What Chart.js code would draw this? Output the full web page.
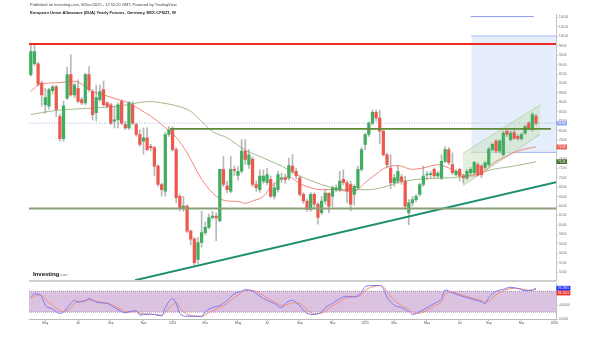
<!DOCTYPE html>
<html>
<head>
<meta charset="utf-8">
<script src="https://cdn.jsdelivr.net/npm/chart.js@4.4.1/dist/chart.umd.min.js"></script>
<style>
  html, body { margin: 0; padding: 0; background: #fff; }
  #wrap { position: relative; width: 600px; height: 343px; overflow: hidden; font-family: Arial, "Liberation Sans", sans-serif; }
  #priceChart { position: absolute; left: 0; top: 0; }
  #oscChart { position: absolute; left: 0; top: 281px; }
  .pub { position: absolute; left: 30px; top: 2.5px; font-size: 4px; line-height: 4px; color: #444; white-space: nowrap; }
  .ttl { position: absolute; left: 30px; top: 10.5px; font-size: 4.1px; line-height: 4px; font-weight: bold; color: #222; white-space: nowrap; }
  .logo { position: absolute; left: 33px; top: 270px; font-size: 6.2px; line-height: 7px; font-weight: bold; color: #111; white-space: nowrap; letter-spacing: -0.1px; }
  .logo span { font-size: 4px; font-weight: normal; color: #777; }
  .sep { position: absolute; left: 29px; top: 280px; width: 527px; height: 2px; background: #cfcfcf; }
</style>
</head>
<body>
<div id="wrap">
  <canvas id="priceChart" width="600" height="283"></canvas>
  <div class="sep"></div>
  <canvas id="oscChart" width="600" height="62"></canvas>
  <div class="pub">Published on Investing.com, 8/Dec/2025 - 12:55:20 GMT, Powered by TradingView</div>
  <div class="ttl">European Union Allowance (EUA) Yearly Futures, Germany, EEX:CFI2Z1, W</div>
  <div class="logo">Investing<span>.com</span></div>
</div>
<script>
// weekly bars, week 0 = 2023-04-03
const tickWeeks  = [4, 13, 22, 31, 39, 48, 57, 65, 74, 83, 92, 100, 109, 118, 126, 135, 144];
const tickLabels = ['May', 'Jul', 'Sep', 'Nov', '2024', 'Mar', 'May', 'Jul', 'Sep', 'Nov', '2025', 'Mar', 'May', 'Jul', 'Sep', 'Nov', '2026'];

const open = [
  91.9, 94.2, 94.2, 90.1, 85.5, 85.2, 88.5, 89.3, 83.0, 78.3,
  86.9, 91.9, 87.6, 89.0, 86.6, 85.9, 91.9, 88.3, 83.8, 86.6,
  88.7, 85.9, 85.5, 82.0, 82.3, 86.2, 81.3, 80.6, 85.5, 81.3,
  79.2, 77.8, 78.5, 76.7, 76.4, 72.5, 68.6, 67.2, 79.2, 80.2,
  76.0, 66.1, 63.7, 64.0, 58.7, 57.0, 52.7, 56.3, 58.4, 59.5,
  61.6, 61.9, 60.9, 71.8, 68.3, 67.2, 71.8, 70.5, 71.4, 75.7,
  72.8, 74.0, 68.6, 67.5, 69.3, 69.0, 69.7, 66.1, 67.5, 69.8,
  70.0, 70.0, 72.5, 71.4, 70.0, 66.5, 65.1, 63.3, 66.5, 64.4,
  62.6, 65.1, 66.8, 66.1, 67.5, 67.5, 69.7, 69.0, 68.6, 66.5,
  67.9, 71.8, 77.1, 79.2, 81.6, 83.9, 82.7, 79.9, 74.9, 72.1,
  69.0, 69.3, 70.2, 69.3, 62.6, 64.7, 65.4, 66.5, 68.6, 70.6,
  70.7, 71.8, 70.4, 70.0, 73.5, 76.0, 72.8, 70.7, 71.8, 70.4,
  70.0, 71.1, 71.1, 72.8, 72.5, 72.2, 72.8, 76.0, 77.8, 75.7,
  74.9, 79.9, 78.1, 79.6, 78.8, 78.3, 79.5, 81.6, 80.2, 83.1
];
const high = [
  98.2, 98.4, 94.5, 90.5, 89.0, 89.0, 89.6, 89.6, 83.5, 86.3,
  93.5, 96.1, 90.1, 90.8, 87.0, 92.2, 93.6, 88.7, 89.7, 89.7,
  90.5, 86.2, 85.9, 85.2, 85.9, 86.6, 82.0, 86.2, 86.2, 81.6,
  80.2, 80.6, 80.6, 77.1, 76.7, 72.8, 68.9, 79.6, 80.9, 80.9,
  76.4, 66.5, 66.1, 64.3, 59.0, 57.4, 57.4, 62.9, 60.6, 62.3,
  62.9, 62.6, 71.8, 74.6, 69.3, 74.6, 72.5, 72.4, 78.1, 78.1,
  76.0, 74.4, 69.3, 71.7, 71.7, 72.0, 70.4, 68.9, 71.4, 71.0,
  70.8, 74.2, 75.0, 72.1, 70.4, 66.9, 65.5, 66.9, 66.9, 64.8,
  66.1, 67.5, 66.8, 68.3, 68.5, 71.4, 71.7, 69.5, 69.3, 68.6,
  72.5, 76.4, 79.5, 81.9, 84.4, 84.4, 84.4, 80.2, 75.3, 74.9,
  70.7, 72.5, 70.7, 70.4, 65.4, 66.1, 66.5, 68.9, 72.5, 71.4,
  71.4, 72.1, 71.4, 74.9, 76.7, 76.4, 75.3, 71.8, 72.1, 70.7,
  71.8, 72.2, 73.5, 73.2, 72.8, 73.5, 76.4, 77.4, 78.1, 78.1,
  79.9, 80.2, 79.9, 80.2, 79.2, 79.5, 81.2, 81.9, 83.8, 83.4
];
const low = [
  91.5, 93.8, 89.5, 85.2, 83.7, 84.5, 87.8, 83.0, 77.8, 77.8,
  86.6, 87.3, 87.0, 85.9, 85.5, 85.5, 88.3, 82.3, 82.0, 86.2,
  85.2, 84.8, 81.3, 80.6, 80.6, 81.3, 80.2, 80.2, 81.3, 78.8,
  76.7, 75.0, 75.7, 75.7, 70.4, 68.2, 66.1, 66.1, 78.8, 75.7,
  64.7, 63.0, 62.9, 58.3, 55.8, 51.5, 51.8, 55.3, 57.9, 59.2,
  61.2, 56.7, 60.6, 68.2, 66.8, 66.8, 70.5, 69.5, 71.0, 72.8,
  72.0, 68.2, 67.2, 66.9, 68.8, 68.5, 65.8, 65.5, 67.0, 69.0,
  68.8, 69.5, 70.9, 69.8, 66.1, 64.6, 62.9, 62.9, 63.5, 60.2,
  62.2, 64.5, 62.6, 63.9, 67.0, 67.0, 68.5, 64.7, 63.0, 64.2,
  67.5, 71.4, 76.0, 78.8, 81.2, 82.0, 77.2, 74.6, 72.1, 67.7,
  68.2, 68.9, 68.6, 63.3, 60.1, 64.0, 64.9, 66.1, 68.2, 69.6,
  69.9, 70.0, 70.0, 69.6, 73.2, 72.8, 70.7, 70.4, 69.3, 68.9,
  69.6, 70.7, 70.7, 70.4, 70.0, 71.8, 72.5, 75.7, 75.3, 75.3,
  74.6, 78.8, 77.8, 78.1, 78.0, 78.0, 79.2, 80.2, 79.9, 81.3
];
const close = [
  96.8, 96.8, 89.9, 87.6, 87.0, 88.7, 89.3, 84.5, 78.3, 85.3,
  91.9, 87.6, 89.7, 86.2, 85.9, 91.9, 88.7, 83.4, 87.0, 88.3,
  85.5, 85.2, 81.6, 82.3, 85.5, 81.6, 80.6, 85.9, 81.6, 79.2,
  77.1, 78.5, 76.0, 76.4, 72.5, 68.6, 67.5, 79.2, 80.2, 76.0,
  65.8, 63.7, 64.0, 58.7, 57.0, 52.0, 56.3, 58.4, 59.5, 61.6,
  61.9, 61.5, 71.8, 68.6, 67.5, 71.8, 71.6, 71.4, 75.7, 73.9,
  74.9, 68.6, 67.9, 70.4, 70.4, 70.7, 66.1, 67.9, 70.7, 70.0,
  69.6, 72.6, 71.4, 70.4, 66.5, 65.1, 63.3, 66.5, 64.4, 61.6,
  65.1, 66.8, 64.0, 67.9, 67.9, 69.3, 69.0, 67.2, 64.4, 68.2,
  71.8, 76.0, 79.2, 81.6, 83.9, 82.7, 79.9, 74.9, 72.8, 69.0,
  70.0, 71.4, 69.3, 64.0, 64.7, 65.4, 66.1, 68.6, 70.4, 70.8,
  70.9, 70.4, 71.0, 73.5, 76.0, 73.2, 71.1, 71.4, 70.4, 70.0,
  71.4, 71.8, 73.3, 70.7, 70.7, 73.2, 76.1, 77.1, 75.7, 77.8,
  79.5, 79.2, 79.5, 78.4, 78.3, 79.2, 80.9, 80.6, 83.4, 81.6
];

// moving averages: [week, value]
const maFast = [
  [0, 88.3], [2, 89.7], [5, 90.1], [8, 90.2], [12, 90.5], [15, 89.4], [17, 88.3], [20, 87.6],
  [24, 86.6], [27, 85.9], [30, 84.5], [33, 83.1], [36, 81.3], [38, 80.0], [40, 78.6], [43, 75.3],
  [47, 69.7], [51, 66.1], [54, 65.1], [57, 65.0], [59, 64.6], [61, 65.1], [64, 66.1], [66, 68.0],
  [69, 69.8], [71, 70.2], [74, 68.8], [77, 67.9], [80, 67.5], [83, 67.5], [87, 67.2], [89, 67.2],
  [92, 69.0], [96, 71.4], [98, 72.3], [101, 72.6], [105, 71.8], [108, 72.1], [112, 72.8], [115, 72.1],
  [119, 70.6], [122, 70.4], [125, 71.4], [127, 73.0], [131, 74.6], [134, 75.7], [139, 76.58]
];
const maSlow = [
  [0, 83.4], [5, 84.1], [10, 84.5], [17, 84.8], [25, 85.3], [30, 86.0], [33, 86.2], [36, 85.9],
  [40, 85.3], [44, 84.1], [47, 82.0], [50, 79.8], [54, 78.5], [59, 75.9], [64, 74.2], [69, 72.5],
  [74, 70.4], [80, 68.6], [85, 67.6], [89, 67.5], [93, 67.5], [97, 68.0], [101, 69.0], [108, 69.8],
  [115, 70.0], [122, 70.7], [127, 71.8], [133, 72.5], [139, 73.43]
];

// oscillator lines: [week, value]
const oscK = [
  [0, 64], [1, 73], [2, 72], [3, 64], [4, 40], [6, 29], [8, 16], [9, 21], [11, 45], [12, 54],
  [13, 49], [15, 54], [16, 59], [18, 49], [19, 47], [21, 45], [23, 33], [25, 21], [26, 18], [27, 21],
  [29, 24], [30, 11], [32, 14], [34, 13], [36, 9], [37, 33], [39, 59], [40, 45], [41, 16], [43, 8],
  [45, 8], [47, 7], [48, 21], [50, 33], [52, 39], [54, 54], [56, 73], [58, 81], [59, 85], [61, 81],
  [63, 66], [65, 54], [67, 45], [69, 33], [70, 45], [72, 54], [74, 38], [76, 16], [78, 13], [80, 21],
  [81, 33], [83, 45], [85, 59], [87, 66], [89, 64], [91, 77], [92, 94], [94, 97], [96, 97], [97, 88],
  [98, 64], [100, 40], [102, 33], [104, 21], [105, 13], [107, 21], [109, 33], [111, 45], [113, 59], [114, 84],
  [116, 76], [118, 68], [120, 62], [122, 56], [124, 50], [125, 45], [126, 62], [128, 80], [130, 86], [132, 92],
  [134, 88], [136, 82], [138, 84], [139, 89.19]
];
const oscD = [
  [0, 60], [1, 66], [2, 70], [3, 69], [4, 58], [6, 40], [8, 24], [9, 20], [11, 33], [12, 45],
  [13, 50], [15, 52], [16, 55], [18, 52], [19, 49], [21, 46], [23, 38], [25, 27], [26, 21], [27, 20],
  [29, 22], [30, 17], [32, 14], [34, 13], [36, 11], [37, 20], [39, 42], [40, 48], [41, 33], [43, 14],
  [45, 9], [47, 8], [48, 12], [50, 24], [52, 34], [54, 45], [56, 62], [58, 76], [59, 82], [61, 83],
  [63, 74], [65, 61], [67, 50], [69, 40], [70, 40], [72, 47], [74, 45], [75, 38], [76, 26], [78, 15],
  [80, 17], [81, 24], [83, 38], [85, 50], [87, 62], [89, 64], [91, 70], [92, 83], [94, 93], [96, 97],
  [97, 93], [98, 80], [100, 54], [102, 39], [104, 28], [105, 18], [107, 17], [109, 26], [111, 38], [113, 51],
  [114, 72], [116, 78], [118, 72], [120, 65], [122, 59], [124, 53], [125, 48], [126, 52], [128, 70], [130, 82],
  [132, 88], [134, 89], [136, 85], [138, 83], [139, 86.15]
];

// drawn levels and tools (price / week units)
const resistance = 98.4;
const midSupport = 80.4;
const lowSupport = 63.5;
const lastPrice = 81.6;
const trendLine = [[28.7, 48.3], [144.5, 69.1]];
const channelTop = [[118.9, 75.2], [140.2, 85.5]];
const channelBottom = [[118.9, 68.4], [140.1, 79.2]];
const rangeBox = { from: 121.2, to: 144.5, top: 100.1, bottom: 75.4 };
const rangeBar = { from: 121, to: 138.4, value: 104.2 };

const priceTags = [81.60, 76.58, 73.43];
const priceTagText = ['81.60', '76.58', '73.43'];
const oscTags = [89.1865, 86.1503];
const oscTagText = ['89.1865', '86.1503'];
const oscTicks = [0, 40, 80];

const UP = '#41ad60';
const DOWN = '#ec5a4f';

function pts(pairs) { return pairs.map(p => ({ x: p[0], y: p[1] })); }
function hline(x0, x1, v) { return [{ x: x0, y: v }, { x: x1, y: v }]; }

const bodies = open.map((o, i) => ({ x: i, y: [o, close[i]] }));
const wicks = open.map((o, i) => ({ x: i, y: [low[i], high[i]] }));
const bodyColors = open.map((o, i) => close[i] >= o ? UP : DOWN);

function drawTags(chart, values, texts, colors, fontSize, boxH) {
    const ctx = chart.ctx;
    const yScale = chart.scales.y;
    const left = chart.chartArea.right + 0.5;
    ctx.save();
    ctx.font = fontSize + 'px Arial';
    ctx.textBaseline = 'middle';
    let lastBottom = -Infinity;
    values.forEach((v, i) => {
        let y = yScale.getPixelForValue(v);
        if (y - boxH / 2 < lastBottom) y = lastBottom + boxH / 2;
        const w = ctx.measureText(texts[i]).width + 3;
        ctx.fillStyle = colors[i].bg;
        ctx.fillRect(left, y - boxH / 2, w, boxH);
        ctx.fillStyle = colors[i].fg;
        ctx.fillText(texts[i], left + 1.5, y + 0.2);
        lastBottom = y + boxH / 2;
    });
    ctx.restore();
}

const priceTagPlugin = {
    id: 'priceTags',
    afterDraw(chart) {
        drawTags(chart, priceTags, priceTagText, [
            { bg: '#8ea4ee', fg: '#ffffff' },
            { bg: '#ef5b52', fg: '#ffffff' },
            { bg: '#3f6a25', fg: '#ffffff' }
        ], 3, 4.6);
    }
};

const oscTagPlugin = {
    id: 'oscTags',
    afterDraw(chart) {
        drawTags(chart, oscTags, oscTagText, [
            { bg: '#1f2bff', fg: '#ffffff' },
            { bg: '#f0322e', fg: '#ffffff' }
        ], 3, 4.8);
    }
};

const lineBase = { type: 'line', pointRadius: 0, fill: false, borderWidth: 1 };

new Chart(document.getElementById('priceChart'), {
    type: 'bar',
    data: {
        datasets: [
            Object.assign({}, lineBase, {
                data: hline(rangeBox.from, rangeBox.to, rangeBox.top),
                fill: { value: rangeBox.bottom },
                backgroundColor: 'rgba(196,212,246,0.42)',
                borderColor: '#a7b6f2',
                order: 20
            }),
            Object.assign({}, lineBase, {
                data: hline(rangeBox.from, rangeBox.to, rangeBox.bottom),
                borderColor: '#a7b6f2',
                order: 19
            }),
            Object.assign({}, lineBase, {
                data: pts(channelTop),
                borderColor: '#b7cfae',
                order: 18
            }),
            Object.assign({}, lineBase, {
                data: pts(channelBottom),
                borderColor: '#b7cfae',
                fill: '-1',
                backgroundColor: 'rgba(206,230,198,0.6)',
                order: 17
            }),
            Object.assign({}, lineBase, {
                data: pts(maSlow),
                borderColor: '#a3bb8a',
                cubicInterpolationMode: 'monotone',
                order: 12
            }),
            Object.assign({}, lineBase, {
                data: pts(maFast),
                borderColor: '#f3857d',
                cubicInterpolationMode: 'monotone',
                order: 11
            }),
            Object.assign({}, lineBase, {
                data: hline(-0.5, 144.5, lastPrice),
                borderColor: '#a9b8e6',
                borderDash: [1, 1.5],
                order: 10
            }),
            {
                data: wicks,
                backgroundColor: 'rgba(120,128,124,0.55)',
                barThickness: 1,
                grouped: false,
                order: 3
            },
            {
                data: bodies,
                backgroundColor: bodyColors,
                barThickness: 2.6,
                minBarLength: 1,
                grouped: false,
                order: 2
            },
            Object.assign({}, lineBase, {
                data: hline(-0.5, 144.5, resistance),
                borderColor: '#ee2a24',
                borderWidth: 2,
                order: 1
            }),
            Object.assign({}, lineBase, {
                data: hline(38.3, 143.1, midSupport),
                borderColor: '#5f8a36',
                borderWidth: 1.6,
                order: 1
            }),
            Object.assign({}, lineBase, {
                data: hline(-0.5, 144.5, lowSupport),
                borderColor: '#8c9f77',
                borderWidth: 2,
                order: 1
            }),
            Object.assign({}, lineBase, {
                data: pts(trendLine),
                borderColor: '#1f8f72',
                borderWidth: 2,
                order: 1
            }),
            Object.assign({}, lineBase, {
                data: hline(rangeBar.from, rangeBar.to, rangeBar.value),
                borderColor: '#8c9cf0',
                order: 1
            })
        ]
    },
    options: {
        responsive: false,
        animation: false,
        events: [],
        layout: { padding: { left: 29, right: 0, top: 14, bottom: 2 } },
        plugins: { legend: { display: false }, tooltip: { enabled: false } },
        scales: {
            x: { type: 'linear', min: -0.5, max: 144.5, offset: false, display: false },
            y: {
                position: 'right',
                min: 48.3,
                max: 104.75,
                afterFit: s => { s.width = 44; },
                afterBuildTicks: s => {
                    const t = [];
                    for (let v = 50; v <= 104; v += 2) t.push({ value: v });
                    s.ticks = t;
                },
                grid: { drawOnChartArea: false, drawTicks: true, tickLength: 2, color: '#c4c4c4' },
                border: { display: true, color: '#c4c4c4' },
                ticks: {
                    font: { size: 3, family: 'Arial' },
                    color: '#666',
                    padding: 1,
                    callback: v => Number(v).toFixed(2)
                }
            }
        }
    },
    plugins: [priceTagPlugin]
});

new Chart(document.getElementById('oscChart'), {
    type: 'line',
    data: {
        datasets: [
            Object.assign({}, lineBase, {
                data: hline(-0.5, 144.5, 80),
                fill: { value: 20 },
                backgroundColor: 'rgba(170,110,180,0.42)',
                borderColor: '#a08aa6',
                borderDash: [1, 1],
                order: 5
            }),
            Object.assign({}, lineBase, {
                data: hline(-0.5, 144.5, 20),
                borderColor: '#a08aa6',
                borderDash: [1, 1],
                order: 5
            }),
            Object.assign({}, lineBase, {
                data: pts(oscD),
                borderColor: '#f08c7c',
                cubicInterpolationMode: 'monotone',
                order: 2
            }),
            Object.assign({}, lineBase, {
                data: pts(oscK),
                borderColor: '#7c78f2',
                cubicInterpolationMode: 'monotone',
                order: 1
            })
        ]
    },
    options: {
        responsive: false,
        animation: false,
        events: [],
        layout: { padding: { left: 29, right: 0, top: 2, bottom: 14 } },
        plugins: { legend: { display: false }, tooltip: { enabled: false } },
        scales: {
            x: {
                type: 'linear',
                min: -0.5,
                max: 144.5,
                offset: false,
                afterFit: s => { s.height = 10; },
                afterBuildTicks: s => { s.ticks = tickWeeks.map(v => ({ value: v })); },
                grid: { drawOnChartArea: false, drawTicks: true, tickLength: 2, color: '#bbbbbb' },
                border: { display: true, color: '#bbbbbb' },
                ticks: {
                    autoSkip: false,
                    maxRotation: 0,
                    font: { size: 3.2, family: 'Arial' },
                    color: '#555',
                    padding: 0,
                    callback: (v, i) => tickLabels[i]
                }
            },
            y: {
                position: 'right',
                min: 0,
                max: 102,
                afterFit: s => { s.width = 44; },
                afterBuildTicks: s => { s.ticks = oscTicks.map(v => ({ value: v })); },
                grid: { drawOnChartArea: false, drawTicks: true, tickLength: 2, color: '#c4c4c4' },
                border: { display: true, color: '#c4c4c4' },
                ticks: {
                    font: { size: 3, family: 'Arial' },
                    color: '#666',
                    padding: 1,
                    callback: v => Number(v).toFixed(4)
                }
            }
        }
    },
    plugins: [oscTagPlugin]
});
</script>
</body>
</html>
